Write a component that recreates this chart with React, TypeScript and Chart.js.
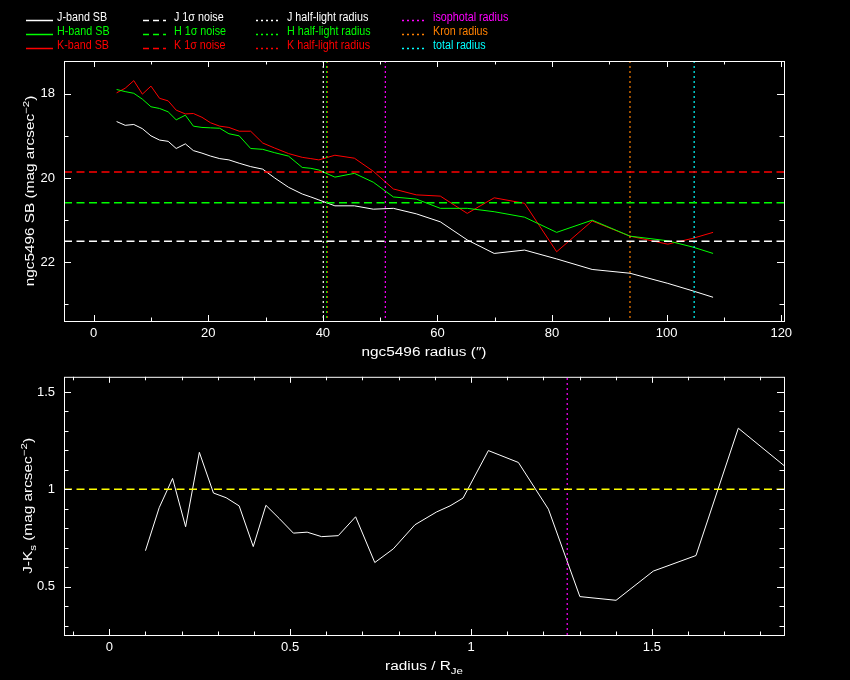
import React, { useEffect, useRef } from "react";
import { Chart, registerables } from "chart.js";
Chart.register(...registerables);

const FONT = '"Liberation Sans", "DejaVu Sans", sans-serif';
const WHITE = "#ffffff";
const GREEN = "#00ff00";
const RED = "#ff0000";
const MAGENTA = "#ff00ff";
const ORANGE = "#ff8000";
const CYAN = "#00ffff";
const YELLOW = "#ffff00";

// ---- top panel: surface brightness profiles ----
const radii = [4.0, 5.5, 7.0, 8.5, 10.0, 11.5, 13.0, 14.4, 16.0, 17.4, 18.9, 20.4, 22.0, 23.6, 25.4, 27.4, 29.5, 31.6, 34.0, 36.4, 37.9, 39.3, 42.1, 45.5, 48.8, 52.3, 56.3, 60.5, 65.2, 69.9, 75.2, 80.8, 87.0, 93.6, 100.2, 104.6, 108.1];
const jSB = [18.66, 18.75, 18.73, 18.83, 19.0, 19.1, 19.13, 19.3, 19.19, 19.35, 19.41, 19.48, 19.54, 19.57, 19.65, 19.73, 19.79, 20.0, 20.22, 20.38, 20.45, 20.52, 20.66, 20.66, 20.74, 20.72, 20.85, 21.04, 21.47, 21.79, 21.71, 21.92, 22.17, 22.26, 22.5, 22.68, 22.83];
const hSB = [17.9, 17.95, 17.99, 18.13, 18.31, 18.35, 18.43, 18.62, 18.51, 18.77, 18.8, 18.81, 18.82, 18.95, 19.0, 19.3, 19.32, 19.4, 19.48, 19.75, 19.77, 19.81, 19.98, 19.89, 20.1, 20.45, 20.5, 20.72, 20.72, 20.8, 20.93, 21.29, 21.0, 21.38, 21.49, 21.64, 21.79];
const kSB = [17.98, 17.87, 17.69, 18.01, 17.82, 18.11, 18.17, 18.39, 18.48, 18.47, 18.56, 18.69, 18.77, 18.8, 18.89, 18.89, 19.17, 19.29, 19.42, 19.51, 19.54, 19.57, 19.46, 19.53, 19.84, 20.26, 20.4, 20.43, 20.84, 20.47, 20.6, 21.75, 21.02, 21.38, 21.57, 21.43, 21.29];
const noiseLevels = [21.5, 20.59, 19.86]; // J, H, K 1-sigma
const halfLightRadii = [40.07, 40.66, 40.8]; // J, H, K
const isophotalRadius = [50.9];
const kronRadius = [93.6];
const totalRadius = [104.8];
const topXTicks = [0, 20, 40, 60, 80, 100, 120];
const topYTicks = [18, 20, 22];
const topXRange = [-5.18, 120.48];
const topYRange = [17.224, 23.393];

// ---- bottom panel: J-Ks colour profile ----
const colorRadii = [0.1, 0.138, 0.175, 0.211, 0.249, 0.288, 0.323, 0.359, 0.398, 0.433, 0.47, 0.509, 0.547, 0.587, 0.633, 0.681, 0.734, 0.785, 0.845, 0.905, 0.942, 0.978, 1.048, 1.131, 1.214, 1.301, 1.401, 1.504, 1.622, 1.739, 1.87];
const colorJK = [0.685, 0.906, 1.056, 0.808, 1.19, 0.981, 0.957, 0.915, 0.706, 0.918, 0.85, 0.775, 0.78, 0.757, 0.762, 0.859, 0.624, 0.694, 0.818, 0.884, 0.915, 0.955, 1.199, 1.138, 0.898, 0.449, 0.43, 0.58, 0.66, 1.314, 1.115];
const colorReference = [1.0];
const isophotalRatio = [1.266];
const botXTicks = [0, 0.5, 1, 1.5];
const botYTicks = [0.5, 1, 1.5];
const botXRange = [-0.1252, 1.8653];
const botYRange = [0.2518, 1.578];

// ---- legend ----
const legendColumns = [
  ["J-band SB", "H-band SB", "K-band SB"],
  ["J 1\u03c3 noise", "H 1\u03c3 noise", "K 1\u03c3 noise"],
  ["J half-light radius", "H half-light radius", "K half-light radius"],
  ["isophotal radius", "Kron radius", "total radius"],
];
const legendColors = [
  [WHITE, GREEN, RED],
  [WHITE, GREEN, RED],
  [WHITE, GREEN, RED],
  [MAGENTA, ORANGE, CYAN],
];

const DOT = [2, 3];
const DASH = [8, 4.5];

type Part = { t: string; s?: "sup" | "sub" };

function drawRich(ctx: CanvasRenderingContext2D, parts: Part[], x: number, y: number, rot: number, size: number, color: string, sx = 1) {
  ctx.save();
  ctx.translate(x, y);
  ctx.rotate(rot);
  ctx.scale(sx, 1);
  ctx.fillStyle = color;
  ctx.textBaseline = "alphabetic";
  ctx.textAlign = "left";
  const big = `${size}px ${FONT}`;
  const small = `${Math.round(size * 0.75)}px ${FONT}`;
  let w = 0;
  for (const p of parts) {
    ctx.font = p.s ? small : big;
    w += ctx.measureText(p.t).width;
  }
  let cx = -w / 2;
  for (const p of parts) {
    ctx.font = p.s ? small : big;
    const dy = p.s === "sup" ? -5 : p.s === "sub" ? 3.5 : 0;
    ctx.fillText(p.t, cx, size * 0.36 + dy);
    cx += ctx.measureText(p.t).width;
  }
  ctx.restore();
}

function stepValues(min: number, max: number, step: number) {
  const out: number[] = [];
  const start = Math.ceil(min / step - 1e-9);
  for (let i = start; i * step <= max + 1e-9; i++) out.push(+(i * step).toFixed(6));
  return out;
}

function framePlugin(cfg: {
  xMajor: number[]; xMinor: number; yMajor: number[]; yMinor: number;
  xTitle: Part[]; yTitle: Part[]; xTitleY: number; yTitleX: number; legend?: boolean;
}) {
  return {
    id: "pgframe",
    afterDraw(chart: any) {
      const ctx: CanvasRenderingContext2D = chart.ctx;
      const { left, right, top, bottom } = chart.chartArea;
      const xs = chart.scales.x;
      const ys = chart.scales.y;
      ctx.save();
      ctx.strokeStyle = WHITE;
      ctx.lineWidth = 1;
      ctx.setLineDash([]);
      ctx.strokeRect(left + 0.5, top + 0.5, right - left, bottom - top);
      ctx.beginPath();
      const isMajor = (arr: number[], v: number) => arr.some((m) => Math.abs(m - v) < 1e-6);
      for (const v of stepValues(xs.min, xs.max, cfg.xMinor)) {
        const px = Math.round(xs.getPixelForValue(v)) + 0.5;
        const l = isMajor(cfg.xMajor, v) ? 6 : 3.5;
        ctx.moveTo(px, bottom); ctx.lineTo(px, bottom - l);
        ctx.moveTo(px, top); ctx.lineTo(px, top + l);
      }
      for (const v of stepValues(ys.min, ys.max, cfg.yMinor)) {
        const py = Math.round(ys.getPixelForValue(v)) + 0.5;
        const l = isMajor(cfg.yMajor, v) ? 7 : 4.5;
        ctx.moveTo(left, py); ctx.lineTo(left + l, py);
        ctx.moveTo(right, py); ctx.lineTo(right - l, py);
      }
      ctx.stroke();
      drawRich(ctx, cfg.xTitle, (left + right) / 2, cfg.xTitleY, 0, 12, WHITE, 1.28);
      drawRich(ctx, cfg.yTitle, cfg.yTitleX, (top + bottom) / 2, -Math.PI / 2, 12, WHITE, 1.28);

      if (cfg.legend) {
        const lineX = [[26, 53], [143, 166], [256, 280], [402, 426]];
        const textX = [57, 174, 287, 433];
        const styles = [[], [6, 4], DOT, DOT];
        const rowY = [20.5, 34.5, 48.5];
        ctx.textBaseline = "alphabetic";
        ctx.textAlign = "left";
        legendColumns.forEach((col, ci) => {
          col.forEach((label, ri) => {
            const color = legendColors[ci][ri];
            ctx.strokeStyle = color;
            ctx.fillStyle = color;
            ctx.lineWidth = ci === 0 ? 1.5 : 1.4;
            ctx.setLineDash(styles[ci] as number[]);
            ctx.beginPath();
            ctx.moveTo(lineX[ci][0], rowY[ri]);
            ctx.lineTo(lineX[ci][1], rowY[ri]);
            ctx.stroke();
            ctx.save();
            ctx.translate(textX[ci], rowY[ri] + 0.5);
            ctx.scale(0.86, 1);
            ctx.font = `12.5px ${FONT}`;
            ctx.fillText(label, 0, 0);
            ctx.restore();
          });
        });
      }
      ctx.restore();
    },
  };
}

function line(data: { x: number; y: number }[], color: string, dash: number[] = [], width = 1) {
  return { data, borderColor: color, borderDash: dash, borderWidth: width, pointRadius: 0, tension: 0, fill: false };
}

function scaleOpts(range: number[], ticks: number[], extra: any) {
  return {
    type: "linear",
    min: range[0],
    max: range[1],
    grid: { display: false, drawTicks: false },
    border: { display: false },
    afterBuildTicks: (s: any) => {
      s.ticks = ticks.map((v) => ({ value: v }));
    },
    ...extra,
  };
}

const tickFont = { family: FONT, size: 13 };

function TopChart() {
  const ref = useRef<HTMLCanvasElement>(null);
  useEffect(() => {
    if (!ref.current) return;
    const [x0, x1] = topXRange;
    const [y0, y1] = topYRange;
    const vcolors = [WHITE, GREEN, RED];
    const datasets: any[] = [];
    noiseLevels.forEach((lv, i) =>
      datasets.push(line([{ x: x0, y: lv }, { x: x1, y: lv }], vcolors[i], DASH, 1.5))
    );
    halfLightRadii.forEach((r, i) =>
      datasets.push(line([{ x: r, y: y0 }, { x: r, y: y1 }], vcolors[i], DOT, 1.2))
    );
    datasets.push(line([{ x: isophotalRadius[0], y: y0 }, { x: isophotalRadius[0], y: y1 }], MAGENTA, DOT, 1.2));
    datasets.push(line([{ x: kronRadius[0], y: y0 }, { x: kronRadius[0], y: y1 }], ORANGE, DOT, 1.2));
    datasets.push(line([{ x: totalRadius[0], y: y0 }, { x: totalRadius[0], y: y1 }], CYAN, DOT, 1.2));
    datasets.push(line(radii.map((r, i) => ({ x: r, y: jSB[i] })), WHITE));
    datasets.push(line(radii.map((r, i) => ({ x: r, y: hSB[i] })), GREEN));
    datasets.push(line(radii.map((r, i) => ({ x: r, y: kSB[i] })), RED));

    const chart = new Chart(ref.current, {
      type: "line",
      data: { datasets },
      options: {
        animation: false,
        responsive: false,
        devicePixelRatio: 1,
        events: [],
        layout: { padding: { left: 0, right: 66, top: 61, bottom: 0 } },
        plugins: { legend: { display: false }, tooltip: { enabled: false } },
        scales: {
          x: scaleOpts(topXRange, topXTicks, {
            ticks: {
              color: WHITE, font: tickFont, maxRotation: 0, autoSkip: false, padding: 5,
              callback: (v: number) => String(v),
            },
            afterFit: (s: any) => { s.height = 39; },
          }),
          y: scaleOpts(topYRange, topYTicks, {
            reverse: true,
            ticks: {
              color: WHITE, font: tickFont, autoSkip: false, padding: 9,
              callback: (v: number) => String(v),
            },
            afterFit: (s: any) => { s.width = 64; },
          }),
        },
      } as any,
      plugins: [
        framePlugin({
          xMajor: topXTicks, xMinor: 10, yMajor: topYTicks, yMinor: 1,
          xTitle: [{ t: "ngc5496 radius (\u2033)" }],
          yTitle: [{ t: "ngc5496 SB (mag arcsec" }, { t: "\u22122", s: "sup" }, { t: ")" }],
          xTitleY: 352, yTitleX: 30, legend: true,
        }) as any,
      ],
    });
    return () => chart.destroy();
  }, []);
  return <canvas ref={ref} width={850} height={360} style={{ position: "absolute", left: 0, top: 0, width: 850, height: 360 }} />;
}

function BottomChart() {
  const ref = useRef<HTMLCanvasElement>(null);
  useEffect(() => {
    if (!ref.current) return;
    const [x0, x1] = botXRange;
    const [y0, y1] = botYRange;
    const datasets: any[] = [
      line([{ x: x0, y: colorReference[0] }, { x: x1, y: colorReference[0] }], YELLOW, DASH, 1.5),
      line([{ x: isophotalRatio[0], y: y0 }, { x: isophotalRatio[0], y: y1 }], MAGENTA, DOT, 1.2),
      line(colorRadii.map((r, i) => ({ x: r, y: colorJK[i] })), WHITE),
    ];
    const chart = new Chart(ref.current, {
      type: "line",
      data: { datasets },
      options: {
        animation: false,
        responsive: false,
        devicePixelRatio: 1,
        events: [],
        layout: { padding: { left: 0, right: 66, top: 15, bottom: 0 } },
        plugins: { legend: { display: false }, tooltip: { enabled: false } },
        scales: {
          x: scaleOpts(botXRange, botXTicks, {
            ticks: {
              color: WHITE, font: tickFont, maxRotation: 0, autoSkip: false, padding: 5,
              callback: (v: number) => String(v),
            },
            afterFit: (s: any) => { s.height = 45; },
          }),
          y: scaleOpts(botYRange, botYTicks, {
            ticks: {
              color: WHITE, font: tickFont, autoSkip: false, padding: 9,
              callback: (v: number) => String(v),
            },
            afterFit: (s: any) => { s.width = 64; },
          }),
        },
      } as any,
      plugins: [
        framePlugin({
          xMajor: botXTicks, xMinor: 0.1, yMajor: botYTicks, yMinor: 0.1,
          xTitle: [{ t: "radius / R" }, { t: "Je", s: "sub" }],
          yTitle: [{ t: "J-K" }, { t: "s", s: "sub" }, { t: " (mag arcsec" }, { t: "\u22122", s: "sup" }, { t: ")" }],
          xTitleY: 306, yTitleX: 28,
        }) as any,
      ],
    });
    return () => chart.destroy();
  }, []);
  return <canvas ref={ref} width={850} height={320} style={{ position: "absolute", left: 0, top: 360, width: 850, height: 320 }} />;
}

export default function App() {
  useEffect(() => {
    document.body.style.background = "#000";
  }, []);
  return (
    <div style={{ position: "absolute", left: 0, top: 0, width: 850, height: 680, background: "#000", overflow: "hidden" }}>
      <TopChart />
      <BottomChart />
    </div>
  );
}
